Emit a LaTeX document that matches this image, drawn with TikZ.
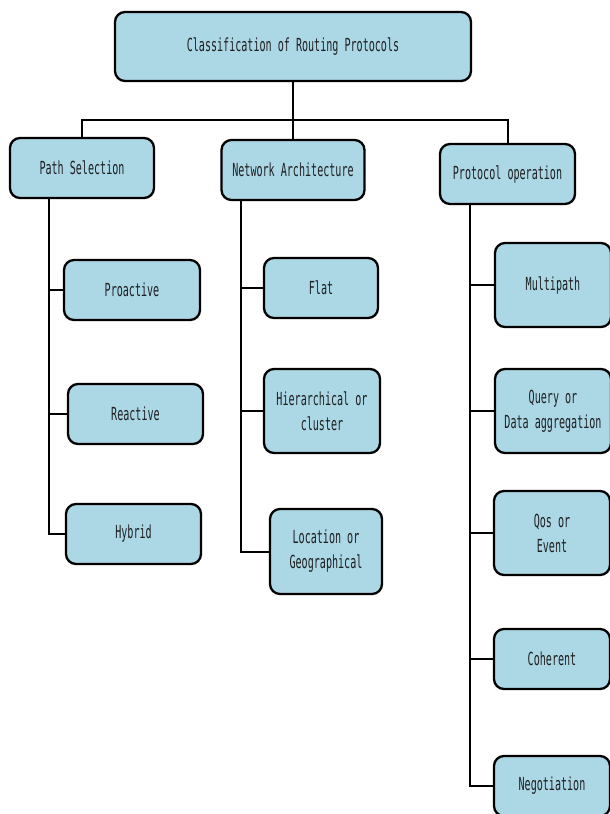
\documentclass[tikz,border=0pt]{standalone}
\usepackage{fontspec}
\newfontfamily\narrowmono{DejaVu Sans Mono}[FakeStretch=0.56]
\definecolor{boxblue}{RGB}{172,215,229}
\definecolor{inkgray}{RGB}{30,32,34}

\begin{document}
\begin{tikzpicture}[x=1pt,y=-1pt,
  protobox/.style={draw=black,fill=boxblue,line width=2.3pt,rounded corners=10pt,
    inner sep=0pt,align=center,text=inkgray,
    font=\narrowmono\fontsize{18}{25}\selectfont},
  link/.style={line width=2pt,line cap=rect}]
\useasboundingbox (0,0) rectangle (610,814);

% Root and the three criteria.
\node[protobox,minimum width=356,minimum height=69] (root) at (293,46.5) {Classification of Routing Protocols};
\node[protobox,minimum width=144,minimum height=60] (ps) at (82,168) {Path Selection};
\node[protobox,minimum width=143,minimum height=60] (na) at (293,170) {Network Architecture};
\node[protobox,minimum width=135,minimum height=60] (po) at (507.5,174) {Protocol operation};

% Path selection classes.
\node[protobox,minimum width=136,minimum height=60] (pro) at (132,290) {Proactive};
\node[protobox,minimum width=135,minimum height=60] (rea) at (135.5,414) {Reactive};
\node[protobox,minimum width=135,minimum height=60] (hyb) at (133.5,534) {Hybrid};

% Network architecture classes.
\node[protobox,minimum width=114,minimum height=60] (flat) at (321,288) {Flat};
\node[protobox,minimum width=116,minimum height=84] (hier) at (322,411) {Hierarchical or\\cluster};
\node[protobox,minimum width=112,minimum height=85] (loc) at (326,551.5) {Location or\\Geographical};

% Protocol operation classes.
\node[protobox,minimum width=116,minimum height=84] (multi) at (553,285) {Multipath};
\node[protobox,minimum width=116,minimum height=84] (query) at (553,411) {Query or\\Data aggregation};
\node[protobox,minimum width=116,minimum height=84] (qos) at (552,533) {Qos or\\Event};
\node[protobox,minimum width=116,minimum height=60] (coh) at (552,659) {Coherent};
\node[protobox,minimum width=116,minimum height=60] (neg) at (552,786) {Negotiation};

% Tree from the root down to the criteria.
\coordinate (bar) at (0,120);
\foreach \n in {ps,na,po}
  \draw[link] (root.south) |- (bar -| \n.north) -- (\n.north);

% Trunks with side branches.
\foreach \n in {pro,rea,hyb}
  \draw[link] ([xshift=40]ps.south west) |- (\n.west);
\foreach \n in {flat,hier,loc}
  \draw[link] ([xshift=20.5]na.south west) |- (\n.west);
\foreach \n in {multi,query,qos,coh,neg}
  \draw[link] ([xshift=31]po.south west) |- (\n.west);
\end{tikzpicture}
\end{document}
